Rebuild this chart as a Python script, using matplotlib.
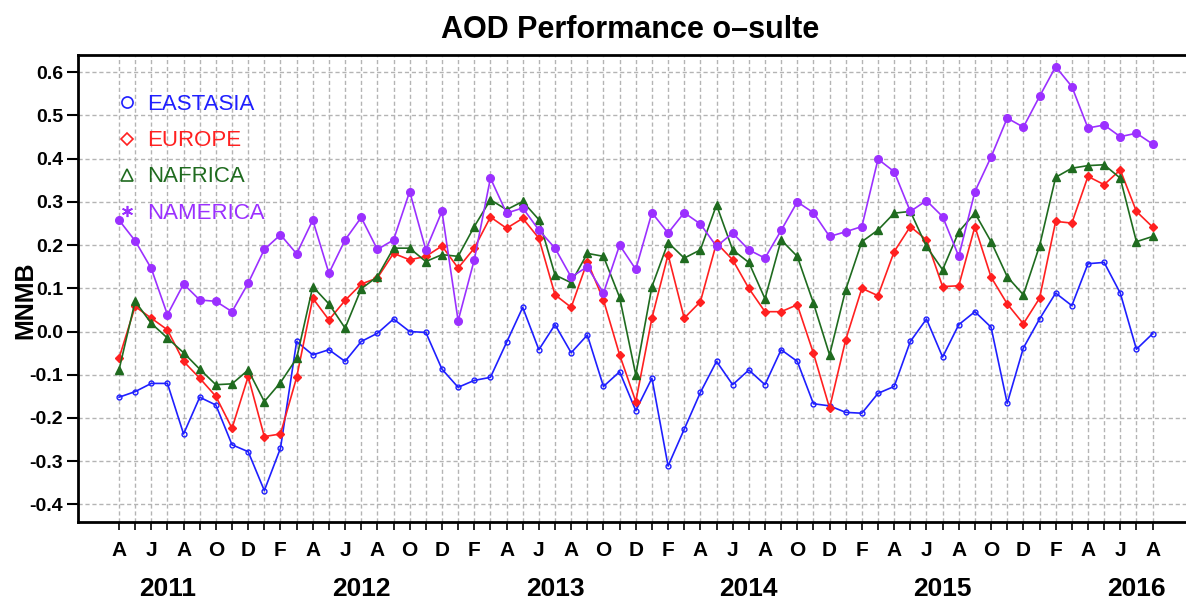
import matplotlib
matplotlib.use("Agg")
import matplotlib.pyplot as plt
from matplotlib.lines import Line2D
import numpy as np

# monthly values, April 2011 .. August 2016
eastasia = [-0.152, -0.139, -0.120, -0.120, -0.237, -0.152, -0.170, -0.262, -0.278, -0.368,
            -0.270, -0.023, -0.054, -0.042, -0.069, -0.023, -0.004, 0.029, 0.000, -0.002,
            -0.087, -0.129, -0.113, -0.106, -0.025, 0.056, -0.042, 0.016, -0.049, -0.008,
            -0.127, -0.093, -0.183, -0.108, -0.311, -0.226, -0.141, -0.069, -0.123, -0.089,
            -0.123, -0.042, -0.069, -0.167, -0.172, -0.187, -0.189, -0.143, -0.127, -0.023,
            0.029, -0.059, 0.016, 0.046, 0.010, -0.166, -0.038, 0.029, 0.089, 0.060,
            0.157, 0.160, 0.089, -0.041, -0.005]
europe = [-0.062, 0.058, 0.031, 0.004, -0.069, -0.108, -0.150, -0.224, -0.104, -0.243,
          -0.237, -0.106, 0.077, 0.027, 0.072, 0.110, 0.124, 0.181, 0.166, 0.174,
          0.198, 0.147, 0.193, 0.265, 0.239, 0.262, 0.216, 0.085, 0.056, 0.162,
          0.073, -0.054, -0.162, 0.031, 0.178, 0.031, 0.069, 0.205, 0.166, 0.100,
          0.046, 0.046, 0.062, -0.050, -0.177, -0.019, 0.100, 0.083, 0.185, 0.243,
          0.212, 0.104, 0.106, 0.243, 0.126, 0.064, 0.018, 0.077, 0.255, 0.251,
          0.359, 0.340, 0.374, 0.278, 0.242]
nafrica = [-0.089, 0.070, 0.019, -0.015, -0.049, -0.087, -0.123, -0.121, -0.089, -0.162,
           -0.118, -0.062, 0.104, 0.064, 0.008, 0.099, 0.127, 0.193, 0.193, 0.162,
           0.178, 0.174, 0.243, 0.305, 0.282, 0.301, 0.259, 0.131, 0.113, 0.181,
           0.174, 0.079, -0.100, 0.104, 0.206, 0.170, 0.189, 0.293, 0.189, 0.160,
           0.076, 0.212, 0.174, 0.066, -0.054, 0.097, 0.208, 0.235, 0.274, 0.278,
           0.197, 0.143, 0.231, 0.274, 0.208, 0.127, 0.085, 0.198, 0.357, 0.378,
           0.384, 0.386, 0.355, 0.208, 0.220]
namerica = [0.258, 0.210, 0.146, 0.039, 0.110, 0.073, 0.070, 0.046, 0.112, 0.190,
            0.224, 0.180, 0.258, 0.135, 0.212, 0.264, 0.190, 0.212, 0.324, 0.189,
            0.278, 0.025, 0.166, 0.355, 0.274, 0.286, 0.235, 0.193, 0.126, 0.150,
            0.089, 0.200, 0.144, 0.275, 0.228, 0.275, 0.249, 0.197, 0.228, 0.189,
            0.170, 0.234, 0.300, 0.275, 0.220, 0.231, 0.243, 0.399, 0.370, 0.278,
            0.303, 0.266, 0.174, 0.324, 0.404, 0.494, 0.473, 0.544, 0.613, 0.567,
            0.471, 0.478, 0.451, 0.459, 0.434]

start_year, start_month = 2011, 4
month_letters = ["J", "F", "M", "A", "M", "J", "J", "A", "S", "O", "N", "D"]
years = [2011, 2012, 2013, 2014, 2015, 2016]
y_ticks = [0.6, 0.5, 0.4, 0.3, 0.2, 0.1, 0.0, -0.1, -0.2, -0.3, -0.4]

series = [
    ("EASTASIA", eastasia, "#1f1fff", "o", 3.5, "none"),
    ("EUROPE", europe, "#ff2020", "D", 4.5, None),
    ("NAFRICA", nafrica, "#1f6b1f", "^", 6, None),
    ("NAMERICA", namerica, "#9b30ff", "o", 5.5, None),
]

font = ["Liberation Sans Narrow", "Liberation Sans", "DejaVu Sans"]

fig = plt.figure(figsize=(11.86, 6.05), dpi=100)
ax = fig.add_axes([0.066, 0.1377, 0.934, 0.7714])

n = len(eastasia)
x = np.arange(n)

for name, vals, col, mk, ms, mfc in series:
    ax.plot(x, vals, color=col, lw=1.2, marker=mk, ms=ms,
            mfc=(col if mfc is None else mfc), mec=col, mew=1.0, zorder=3)

ax.set_xlim(-2.52, 66.07)
ax.set_ylim(-0.44, 0.64)

# month ticks, letter every second month
ax.set_xticks(x)
labels = []
for i in range(n):
    m = (start_month - 1 + i) % 12
    labels.append(month_letters[m] if i % 2 == 0 else "")
ax.set_xticklabels(labels, fontsize=15, fontweight="bold", family=font)
ax.tick_params(axis="x", length=6, width=1.2, pad=8)

ax.set_yticks(y_ticks)
ax.set_yticklabels([f"{v:.1f}" for v in y_ticks], fontsize=14, fontweight="bold", family=font)
ax.tick_params(axis="y", length=8, width=1.5, pad=3)

# years under July of each year
for yr in years:
    xi = (yr - start_year) * 12 + (7 - start_month)
    ax.text(xi, -0.118, str(yr), transform=ax.get_xaxis_transform(), ha="center", va="top",
            fontsize=19, fontweight="bold", family=font)

ax.grid(True, color="#b4b4b4", linestyle=(0, (3, 2)), linewidth=1.0)
ax.set_axisbelow(True)

for side in ["left", "top", "bottom"]:
    ax.spines[side].set_linewidth(2.0)
ax.spines["right"].set_visible(False)

fig.text(630 / 1186, 1 - 30 / 605, "AOD Performance o\u2013sulte", ha="center", va="center",
         fontsize=22, fontweight="bold", family=font)
fig.text(25 / 1186, 1 - 300 / 605, "MNMB", rotation=90, ha="center", va="center",
         fontsize=18, fontweight="bold", family=font)

handles = []
for name, vals, col, mk, ms, mfc in series:
    lm = mk
    if name == "NAMERICA":
        lm = (6, 2, 0)
    handles.append(Line2D([], [], color=col, lw=0, marker=lm, ms=8 if lm != "D" else 6,
                          mfc="none", mec=col, mew=1.2, label=name))
leg = ax.legend(handles=handles, loc="upper left", bbox_to_anchor=(0.03, 0.935),
                frameon=False, handlelength=0.6, handletextpad=0.6, labelspacing=0.68,
                prop={"family": "Liberation Sans", "size": 16}, borderaxespad=0)
for txt, (name, vals, col, *_rest) in zip(leg.get_texts(), series):
    txt.set_color(col)

fig.savefig("out.png", dpi=100)
